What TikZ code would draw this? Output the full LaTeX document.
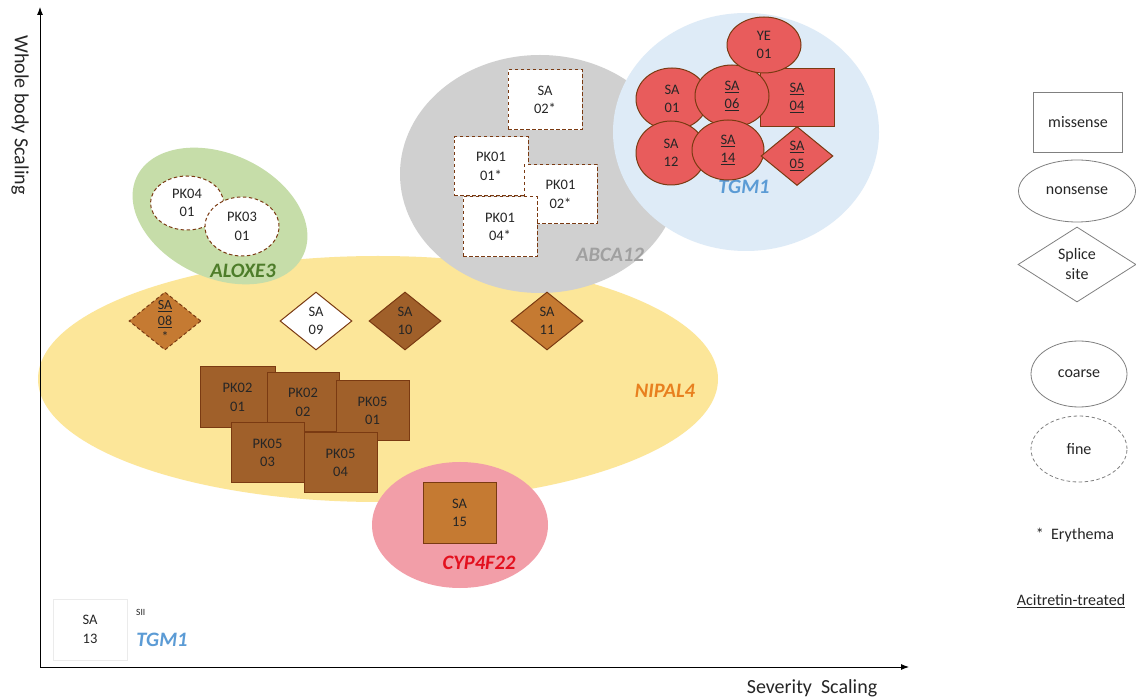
\documentclass[tikz,border=0pt]{standalone}
\usepackage{fontspec}
\setmainfont{Carlito}
\usetikzlibrary{shapes.geometric,arrows.meta}
\definecolor{yellowbg}{HTML}{FCE699}
\definecolor{greenbg}{HTML}{C6DDA9}
\definecolor{graybg}{HTML}{D0D0D0}
\definecolor{bluebg}{HTML}{DEEBF7}
\definecolor{pinkbg}{HTML}{F29EA8}
\definecolor{nipalc}{HTML}{E8801F}
\definecolor{aloxc}{HTML}{4E7D2A}
\definecolor{abcac}{HTML}{A0A0A0}
\definecolor{tgmc}{HTML}{5B9BD5}
\definecolor{cypc}{HTML}{E3101E}
\definecolor{redf}{HTML}{E85C5C}
\definecolor{brownf}{HTML}{A0602A}
\definecolor{orangef}{HTML}{C57A32}
\definecolor{edgec}{HTML}{7A3A12}
\definecolor{txtc}{HTML}{262626}
\definecolor{legc}{HTML}{808080}
\begin{document}
\begin{tikzpicture}[x=1pt,y=-1pt,
  txt/.style={font=\fontsize{14.5}{18.5}\selectfont, align=center, text=txtc, inner sep=0pt},
  shp/.style={draw=edgec, line width=1pt, inner sep=0pt},
  ell/.style={shp, ellipse},
  rct/.style={shp, rectangle},
  dia/.style={shp, diamond},
  fdash/.style={dash pattern=on 3.5pt off 2.5pt},
  sz/.style 2 args={minimum width=#1, minimum height=#2},
  region/.style={ellipse, inner sep=0pt, draw=none},
  gene/.style={font=\fontsize{20.5}{24}\selectfont\bfseries\itshape, inner sep=0pt},
  leg/.style={draw=legc, line width=0.8pt, inner sep=0pt, font=\fontsize{16}{20}\selectfont, align=center, text=txtc},
  legt/.style={inner sep=0pt, font=\fontsize{16}{20}\selectfont, text=txtc},
  axl/.style={inner sep=0pt, font=\fontsize{20}{24}\selectfont, text=txtc}
]
\useasboundingbox (0,0) rectangle (1136,700);
\fill[white] (0,0) rectangle (1136,700);

% regions
\node[region, fill=yellowbg, sz={680}{246}] (nipal) at (378,379) {};
\node[region, fill=greenbg, sz={184}{124}, rotate=-25] (aloxe) at (220,216) {};
\node[region, fill=graybg, sz={280}{238}] (abca) at (540,174) {};
\node[region, fill=bluebg, sz={266}{238}] (tgm) at (746,132) {};
\node[region, fill=pinkbg, sz={176}{126}] (cyp) at (460,525) {};

% gene labels
\node[gene, text=nipalc] (nipalL) at (665,391) {NIPAL4};
\node[gene, text=aloxc] (aloxL) at (243,271) {ALOXE3};
\node[gene, text=abcac] (abcaL) at (610,255) {ABCA12};
\node[gene, text=tgmc] (tgmL) at (744,187) {TGM1};
\node[gene, text=cypc] (cypL) at (479,563) {CYP4F22};

% TGM1 cluster
\node[rct, fill=redf, sz={74}{58}, label={[txt]center:{\underline{SA}\\\underline{04}}}] (sa04) at (797,98) {};
\node[ell, fill=redf, sz={72}{62}, label={[txt]center:{SA\\01}}] (sa01) at (672,99) {};
\node[ell, fill=redf, sz={74}{62}, label={[txt]center:{\underline{SA}\\\underline{06}}}] (sa06) at (732,96) {};
\node[ell, fill=redf, sz={74}{56}, label={[txt]center:{YE\\01}}] (ye01) at (764,45) {};
\node[ell, fill=redf, sz={70}{64}, label={[txt]center:{SA\\12}}] (sa12) at (671,153) {};
\node[ell, fill=redf, sz={72}{60}, label={[txt]center:{\underline{SA}\\\underline{14}}}] (sa14) at (728,150) {};
\node[dia, fill=redf, sz={72}{59}, label={[txt]center:{\underline{SA}\\\underline{05}}}] (sa05) at (797,156) {};

% ABCA12 cluster
\node[rct, fdash, fill=white, sz={74}{60}, label={[txt]center:{SA\\02*}}] (sa02) at (545,100) {};
\node[rct, fdash, fill=white, sz={74}{59}, label={[txt]center:{PK01\\01*}}] (pk0101) at (491,166.5) {};
\node[rct, fdash, fill=white, sz={73}{59}, label={[txt]center:{PK01\\02*}}] (pk0102) at (560.5,194.5) {};
\node[rct, fdash, fill=white, sz={74}{60}, label={[txt]center:{PK01\\04*}}] (pk0104) at (500,227) {};

% ALOXE3 cluster
\node[ell, fdash, fill=white, sz={73}{54}, label={[txt]center:{PK04\\01}}] (pk0401) at (187,203) {};
\node[ell, fdash, fill=white, sz={74}{59}, label={[txt]center:{PK03\\01}}] (pk0301) at (242,226.5) {};

% NIPAL4 diamonds
\node[dia, fdash, fill=orangef, sz={72}{58}, label={[txt, font=\fontsize{14}{16}\selectfont]center:{\underline{SA}\\\underline{08}\\*}}] (sa08) at (165,321) {};
\node[dia, fill=white, sz={72}{58}, label={[txt]center:{SA\\09}}] (sa09) at (316,321) {};
\node[dia, fill=brownf, sz={72}{58}, label={[txt]center:{SA\\10}}] (sa10) at (405,321) {};
\node[dia, fill=orangef, sz={72}{58}, label={[txt]center:{SA\\11}}] (sa11) at (547,321) {};

% NIPAL4 squares
\node[rct, fill=brownf, sz={75}{61}, label={[txt]center:{PK02\\01}}] (pk0201) at (237.5,397.5) {};
\node[rct, fill=brownf, sz={72}{59}, label={[txt]center:{PK02\\02}}] (pk0202) at (303,402.5) {};
\node[rct, fill=brownf, sz={73}{60}, label={[txt]center:{PK05\\01}}] (pk0501) at (372.5,411) {};
\node[rct, fill=brownf, sz={73}{60}, label={[txt]center:{PK05\\03}}] (pk0503) at (267.5,453) {};
\node[rct, fill=brownf, sz={73}{60}, label={[txt]center:{PK05\\04}}] (pk0504) at (340.5,463) {};

% CYP4F22
\node[rct, fill=orangef, sz={73}{60}, label={[txt]center:{SA\\15}}] (sa15) at (459.5,513) {};

% SA13
\node[rct, draw=black!8, fill=white, sz={74}{61}, label={[txt]center:{SA\\13}}] (sa13) at (90,629.5) {};
\node[inner sep=0pt, font=\fontsize{9.5}{10}\selectfont, text=txtc, anchor=west] (sii) at (136,612) {SII};
\node[gene, text=tgmc] (tgm2L) at (162,640) {TGM1};

% axes
\coordinate (origin) at (40,667);
\coordinate (ytop) at (40,7);
\coordinate (xend) at (909,667);
\draw[line width=0.9pt, -{Latex[length=8pt,width=6pt]}] (origin) -- (ytop);
\draw[line width=0.9pt, -{Latex[length=8pt,width=6pt]}] (origin) -- (xend);
\node[axl, rotate=-90] (ylab) at (20,115) {Whole body Scaling};
\node[axl] (xlab) at (812,688) {Severity\ \ Scaling};

% legend
\node[leg, rectangle, sz={89}{60}] (lmis) at (1078,122) {missense};
\node[leg, ellipse, sz={117}{62}] (lnon) at (1077,191) {nonsense};
\node[leg, diamond, sz={118}{75}, label={[legt, align=center]center:{Splice\\site}}] (lspl) at (1077,264.5) {};
\node[leg, ellipse, sz={96}{66}] (lcoa) at (1079,374) {coarse};
\node[leg, ellipse, fdash, sz={96}{66}] (lfin) at (1079,449) {fine};
\node[legt] (lery) at (1075,535) {*\ \ Erythema};
\node[legt] (laci) at (1071,601) {\underline{Acitretin-treated}};
\end{tikzpicture}
\end{document}
